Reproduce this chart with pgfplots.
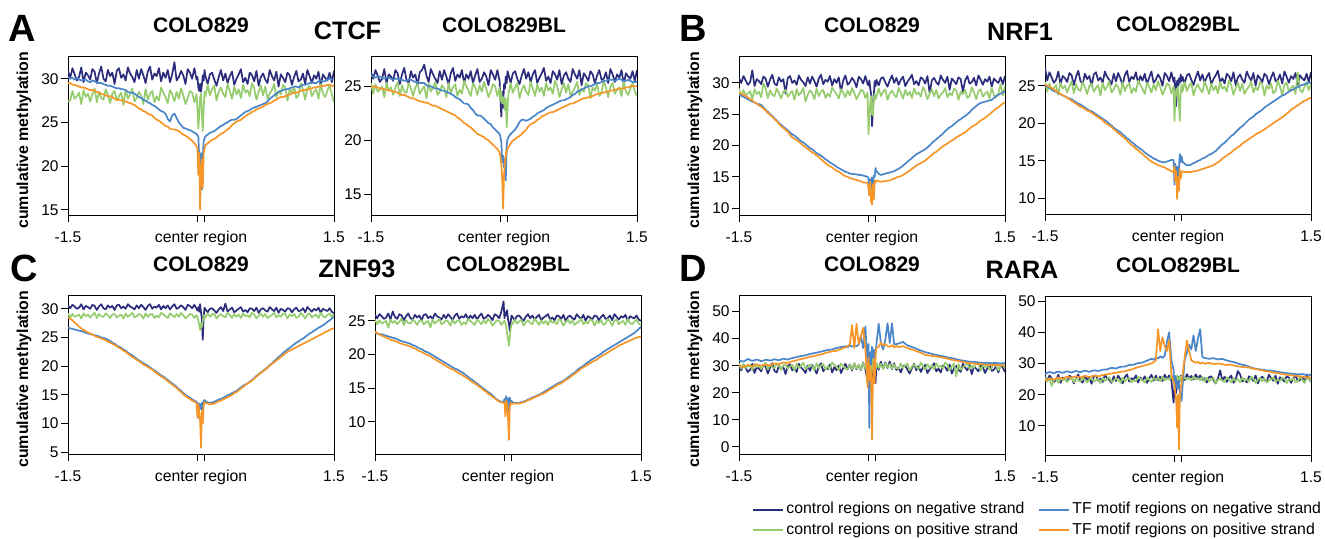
\documentclass[border=0pt]{standalone}
\usepackage{pgfplots}
\pgfplotsset{compat=1.18}
\usepackage{pgfplotstable}
\usepackage{fontspec}
\setmainfont{Liberation Sans}
\setsansfont{Liberation Sans}

\definecolor{cneg}{RGB}{43,45,124}
\definecolor{cpos}{RGB}{150,204,110}
\definecolor{tneg}{RGB}{74,134,200}
\definecolor{tpos}{RGB}{246,150,40}

% CTCF, COLO829
\pgfplotstableread{
x cn cp tn tp
-1.500 30.9 27.4 30.2 29.5
-1.475 30.1 27.5 30.0 29.5
-1.450 31.2 28.6 30.1 29.3
-1.425 30.5 27.7 29.9 29.3
-1.400 29.8 28.0 30.1 29.2
-1.375 30.2 28.4 29.9 29.1
-1.350 31.3 27.1 29.8 29.0
-1.325 29.6 28.7 29.9 29.0
-1.300 30.7 27.9 29.9 28.9
-1.275 30.4 28.3 29.7 28.8
-1.250 29.9 27.4 29.6 28.7
-1.225 31.1 28.2 29.8 28.7
-1.200 30.8 28.9 29.7 28.6
-1.175 29.5 27.3 29.6 28.5
-1.150 30.6 28.5 29.5 28.4
-1.125 31.4 27.8 29.5 28.3
-1.100 30.0 27.6 29.4 28.2
-1.075 29.7 28.8 29.3 28.1
-1.050 31.0 28.1 29.2 28.0
-1.025 30.3 27.2 29.2 28.0
-1.000 30.7 28.3 29.1 27.9
-0.975 29.4 28.6 29.0 27.7
-0.950 30.9 27.5 28.9 27.6
-0.925 31.2 28.0 28.9 27.6
-0.900 30.1 28.4 28.8 27.5
-0.875 30.5 27.0 28.8 27.5
-0.850 29.8 28.7 28.7 27.4
-0.825 31.3 27.7 28.5 27.3
-0.800 30.6 28.2 28.4 27.2
-0.775 30.2 28.9 28.4 27.1
-0.750 29.6 27.4 28.3 27.0
-0.725 31.0 27.8 28.1 26.8
-0.700 30.0 28.5 27.9 26.6
-0.675 31.1 28.1 27.8 26.5
-0.650 30.4 27.1 27.6 26.3
-0.625 29.5 28.8 27.5 26.2
-0.600 30.8 27.6 27.3 26.0
-0.575 31.4 28.3 27.2 25.9
-0.550 29.9 28.6 27.0 25.8
-0.525 30.6 27.3 26.9 25.5
-0.500 30.3 28.0 26.7 25.3
-0.475 31.2 27.5 26.5 25.2
-0.450 29.7 29.0 26.3 25.0
-0.425 30.7 28.4 26.2 24.8
-0.400 30.1 27.9 26.0 24.6
-0.375 31.0 27.2 25.4 24.5
-0.350 29.6 28.7 25.1 24.3
-0.325 30.5 28.2 25.8 24.2
-0.300 31.9 27.4 26.0 24.2
-0.275 29.8 28.5 25.5 24.1
-0.250 30.2 27.7 25.0 24.0
-0.225 30.9 28.9 24.7 23.8
-0.200 30.4 28.1 24.4 23.6
-0.175 29.4 27.1 24.3 23.5
-0.150 31.1 27.8 24.2 23.3
-0.125 30.7 28.6 24.1 23.1
-0.100 30.0 28.4 24.0 22.9
-0.075 31.2 27.3 23.8 22.6
-0.050 29.9 28.2 23.7 22.3
-0.040 30.2 26.5 23.5 22.0
-0.030 29.0 24.3 23.4 19.0
-0.020 28.6 26.0 21.0 21.5
-0.010 29.4 27.8 20.3 15.0
0.000 28.5 28.3 21.5 19.5
0.010 29.3 26.0 17.3 20.8
0.020 30.4 24.0 21.0 17.5
0.030 29.8 26.5 22.8 21.5
0.040 31.0 28.5 23.2 22.0
0.050 30.3 28.0 23.4 22.4
0.075 29.4 29.3 23.6 22.6
0.100 30.5 28.1 23.8 22.8
0.125 30.7 28.8 23.9 23.0
0.150 29.9 29.2 24.0 23.1
0.175 29.2 27.5 24.2 23.3
0.200 30.2 28.5 24.4 23.5
0.225 31.0 29.0 24.6 23.7
0.250 29.8 28.3 24.7 23.8
0.275 30.6 27.9 24.9 24.0
0.300 29.5 29.4 25.0 24.2
0.325 30.3 28.6 25.2 24.4
0.350 30.8 27.7 25.3 24.7
0.375 29.3 29.1 25.3 24.9
0.400 30.0 28.2 25.4 25.1
0.425 30.5 28.8 25.6 25.2
0.450 31.1 27.8 25.8 25.3
0.475 29.6 29.3 26.0 25.5
0.500 30.1 28.4 26.2 25.7
0.525 29.4 28.7 26.3 25.9
0.550 30.7 28.0 26.4 26.0
0.575 30.4 29.5 26.6 26.2
0.600 29.7 28.9 26.7 26.3
0.625 30.9 27.6 26.8 26.5
0.650 29.2 28.5 26.9 26.6
0.675 30.2 29.2 27.0 26.7
0.700 30.6 28.1 27.1 26.8
0.725 29.9 29.1 27.2 27.0
0.750 29.5 27.7 27.4 27.1
0.775 31.0 28.3 27.7 27.2
0.800 30.3 28.7 27.9 27.3
0.825 29.8 29.4 28.1 27.5
0.850 30.8 27.9 28.3 27.6
0.875 29.1 28.6 28.5 27.8
0.900 30.5 28.2 28.6 27.9
0.925 30.1 29.3 28.7 27.9
0.950 29.6 29.0 28.8 28.0
0.975 30.7 27.5 28.8 28.1
1.000 30.4 28.8 28.9 28.2
1.025 29.3 28.4 29.0 28.3
1.050 30.2 29.1 29.1 28.4
1.075 30.9 27.8 29.1 28.4
1.100 29.7 28.1 29.0 28.5
1.125 29.9 29.5 29.2 28.6
1.150 30.6 28.7 29.3 28.7
1.175 29.4 27.6 29.3 28.7
1.200 31.0 28.9 29.4 28.8
1.225 30.3 29.2 29.5 28.8
1.250 29.5 28.0 29.6 28.9
1.275 30.4 28.5 29.5 29.0
1.300 30.0 28.8 29.5 29.0
1.325 30.8 27.7 29.7 29.1
1.350 29.2 29.4 29.8 29.1
1.375 30.5 28.3 29.7 29.2
1.400 30.1 27.9 29.7 29.2
1.425 29.8 28.6 29.9 29.3
1.450 30.7 29.3 30.0 29.3
1.475 29.6 28.2 29.9 29.2
1.500 30.9 27.3 29.9 29.2
}\ctcfa

% CTCF, COLO829BL
\pgfplotstableread{
x cn cp tn tp
-1.500 26.3 25.3 26.0 25.0
-1.475 25.7 24.3 25.9 25.0
-1.450 26.5 25.2 25.8 24.9
-1.425 26.0 24.5 25.9 24.9
-1.400 25.4 24.7 25.9 24.8
-1.375 25.7 25.0 25.8 24.8
-1.350 26.6 24.0 25.7 24.7
-1.325 25.3 25.3 25.8 24.7
-1.300 26.1 24.6 25.8 24.6
-1.275 25.9 24.9 25.7 24.6
-1.250 25.5 24.2 25.6 24.5
-1.225 26.5 24.9 25.7 24.5
-1.200 26.2 25.4 25.7 24.4
-1.175 25.2 24.1 25.6 24.3
-1.150 26.1 25.1 25.6 24.2
-1.125 26.7 24.5 25.5 24.2
-1.100 25.6 24.4 25.5 24.1
-1.075 25.3 25.3 25.6 24.0
-1.050 26.4 24.8 25.6 23.9
-1.025 25.8 24.1 25.5 23.9
-1.000 26.1 24.9 25.4 23.8
-0.975 25.1 25.2 25.4 23.7
-0.950 26.3 24.3 25.3 23.6
-0.925 26.5 24.7 25.3 23.6
-0.900 27.0 25.0 25.3 23.5
-0.875 26.0 23.9 25.1 23.5
-0.850 25.4 25.3 25.0 23.4
-0.825 26.6 24.5 25.0 23.3
-0.800 26.1 24.9 24.9 23.2
-0.775 25.7 25.4 24.8 23.2
-0.750 25.3 24.2 24.8 23.1
-0.725 26.4 24.5 24.7 23.0
-0.700 25.6 25.1 24.6 22.9
-0.675 26.5 24.8 24.6 22.8
-0.650 25.9 24.0 24.5 22.7
-0.625 25.2 25.3 24.4 22.6
-0.600 26.2 24.4 24.3 22.5
-0.575 26.7 24.9 24.2 22.4
-0.550 25.5 25.2 24.0 22.3
-0.525 26.1 24.1 23.9 22.1
-0.500 25.8 24.7 23.8 22.0
-0.475 26.5 24.3 23.6 21.8
-0.450 25.3 25.5 23.4 21.6
-0.425 26.1 25.0 23.4 21.5
-0.400 25.7 24.6 23.3 21.3
-0.375 26.4 24.1 23.0 21.2
-0.350 25.3 25.3 22.8 21.0
-0.325 26.0 24.9 22.5 20.8
-0.300 26.6 24.2 22.3 20.6
-0.275 25.4 25.1 22.3 20.5
-0.250 25.7 24.5 22.2 20.4
-0.225 26.3 25.4 22.0 20.3
-0.200 25.9 24.8 21.8 20.1
-0.175 25.1 24.0 21.6 20.0
-0.150 26.5 24.5 21.5 19.8
-0.125 26.1 25.2 21.2 19.6
-0.100 25.6 25.0 21.0 19.4
-0.075 26.5 24.1 20.8 19.2
-0.050 25.5 24.9 20.6 18.9
-0.040 23.8 23.6 20.3 18.5
-0.030 22.2 24.5 19.8 17.8
-0.020 24.5 23.4 18.0 16.3
-0.010 23.0 24.0 18.6 13.7
0.000 25.2 23.6 17.5 16.8
0.010 24.8 22.8 18.3 17.9
0.020 25.9 23.9 16.3 18.6
0.030 25.3 21.2 19.6 19.0
0.040 26.4 23.0 20.1 19.2
0.050 26.1 24.3 20.3 19.4
0.075 25.3 25.3 20.6 19.7
0.100 26.2 24.4 20.8 20.0
0.125 26.4 24.9 21.0 20.1
0.150 25.7 25.3 21.3 20.3
0.175 25.2 23.9 21.7 20.4
0.200 26.0 24.7 21.9 20.6
0.225 26.6 25.1 21.9 20.8
0.250 25.7 24.5 21.8 21.0
0.275 26.3 24.2 21.9 21.3
0.300 25.4 25.4 22.0 21.5
0.325 26.1 24.8 22.2 21.6
0.350 26.5 24.1 22.3 21.7
0.375 25.3 25.2 22.5 21.9
0.400 25.8 24.5 22.6 22.0
0.425 26.2 24.9 22.7 22.2
0.450 26.7 24.1 22.8 22.3
0.475 25.5 25.3 23.0 22.4
0.500 25.9 24.6 23.1 22.5
0.525 25.3 24.9 23.2 22.6
0.550 26.4 24.3 23.3 22.6
0.575 26.1 25.5 23.4 22.7
0.600 25.6 25.0 23.5 22.8
0.625 26.5 24.0 23.6 22.9
0.650 25.2 24.7 23.7 23.0
0.675 26.0 25.3 23.7 23.1
0.700 26.3 24.4 23.8 23.2
0.725 25.7 25.2 23.9 23.3
0.750 25.4 24.1 24.0 23.4
0.775 26.6 24.5 24.2 23.4
0.800 26.1 24.9 24.3 23.5
0.825 25.7 25.4 24.5 23.6
0.850 26.5 24.2 24.6 23.7
0.875 25.1 24.8 24.7 23.8
0.900 26.2 24.5 24.8 23.9
0.925 25.9 25.3 24.9 23.9
0.950 25.5 25.1 25.0 24.0
0.975 26.4 23.9 25.0 24.0
1.000 26.1 24.9 25.1 24.1
1.025 25.3 24.6 25.2 24.2
1.050 26.0 25.2 25.3 24.3
1.075 26.5 24.1 25.3 24.3
1.100 25.6 24.4 25.4 24.4
1.125 25.7 25.5 25.5 24.4
1.150 26.3 24.9 25.5 24.5
1.175 25.3 24.0 25.6 24.5
1.200 26.6 25.0 25.6 24.6
1.225 26.1 25.3 25.6 24.6
1.250 25.4 24.3 25.5 24.7
1.275 26.1 24.7 25.6 24.7
1.300 25.8 24.9 25.7 24.8
1.325 26.5 24.1 25.6 24.8
1.350 25.2 25.4 25.5 24.8
1.375 26.2 24.5 25.5 24.9
1.400 25.9 24.2 25.6 24.9
1.425 25.7 24.8 25.5 25.0
1.450 26.4 25.3 25.4 25.0
1.475 25.5 24.5 25.4 25.0
1.500 26.5 24.1 25.4 25.0
}\ctcfb

% NRF1, COLO829
\pgfplotstableread{
x cn cp tn tp
-1.500 30.8 29.1 28.1 28.4
-1.475 30.0 27.8 28.0 28.3
-1.450 31.1 28.9 27.8 28.1
-1.425 30.4 28.0 27.6 27.9
-1.400 29.7 28.3 27.4 27.7
-1.375 30.1 28.7 27.2 27.4
-1.350 32.0 27.4 27.0 27.2
-1.325 29.5 29.0 26.9 26.9
-1.300 30.6 28.2 26.7 26.7
-1.275 30.3 28.6 26.6 26.4
-1.250 29.8 27.7 26.5 26.2
-1.225 31.0 29.9 26.1 25.9
-1.200 30.7 29.2 25.7 25.6
-1.175 29.4 27.6 25.4 25.2
-1.150 30.5 28.8 25.0 24.9
-1.125 31.3 28.1 24.7 24.6
-1.100 29.9 27.9 24.3 24.2
-1.075 29.6 29.1 24.0 23.9
-1.050 30.9 28.4 23.6 23.5
-1.025 30.2 27.5 23.3 23.1
-1.000 30.6 28.6 23.0 22.8
-0.975 28.3 28.9 22.7 22.5
-0.950 30.8 27.8 22.4 22.2
-0.925 31.1 28.3 22.1 21.7
-0.900 30.0 28.7 21.8 21.3
-0.875 30.4 27.3 21.6 21.1
-0.850 29.7 29.0 21.3 20.9
-0.825 31.2 28.0 21.0 20.6
-0.800 30.5 28.5 20.7 20.3
-0.775 30.1 29.2 20.5 20.0
-0.750 29.5 27.0 20.2 19.7
-0.725 30.9 28.1 19.9 19.5
-0.700 29.9 28.8 19.6 19.2
-0.675 31.0 28.4 19.4 18.9
-0.650 30.3 27.4 19.1 18.7
-0.625 29.4 29.1 18.8 18.4
-0.600 30.7 27.9 18.6 18.2
-0.575 31.3 28.6 18.4 17.8
-0.550 29.8 28.9 18.1 17.5
-0.525 30.5 27.6 17.8 17.2
-0.500 30.2 28.3 17.6 16.9
-0.475 31.1 27.8 17.3 16.7
-0.450 29.6 29.3 17.1 16.5
-0.425 30.6 28.7 16.9 16.2
-0.400 30.0 28.2 16.6 16.0
-0.375 30.9 27.5 16.4 15.8
-0.350 28.6 29.0 16.2 15.6
-0.325 30.4 28.5 16.0 15.3
-0.300 31.2 27.7 15.8 15.1
-0.275 29.7 28.8 15.7 15.0
-0.250 30.1 28.0 15.5 14.8
-0.225 30.8 29.2 15.5 14.7
-0.200 30.3 28.4 15.4 14.6
-0.175 29.3 27.4 15.4 14.5
-0.150 31.0 28.1 15.3 14.4
-0.125 30.6 28.9 15.3 14.3
-0.100 29.9 28.7 15.2 14.1
-0.075 31.1 27.6 15.1 14.1
-0.050 29.8 28.5 15.0 14.0
-0.040 29.6 21.8 14.8 13.2
-0.030 30.4 24.5 12.2 12.0
-0.020 29.1 26.8 14.6 14.2
-0.010 28.2 27.9 13.0 11.0
0.000 23.1 25.0 14.9 10.6
0.010 25.5 24.8 12.8 13.8
0.020 27.9 27.6 15.2 11.4
0.030 30.3 28.3 15.0 14.4
0.040 29.5 27.4 16.4 14.1
0.050 30.5 27.8 15.9 14.4
0.075 29.6 29.1 15.5 14.3
0.100 30.7 27.9 15.3 14.2
0.125 30.9 28.6 15.4 14.3
0.150 30.1 29.0 15.5 14.3
0.175 29.4 27.3 15.6 14.4
0.200 30.4 28.3 15.7 14.4
0.225 31.2 28.8 15.8 14.6
0.250 30.0 28.1 15.9 14.7
0.275 30.8 27.7 16.1 14.9
0.300 29.7 29.2 16.3 15.0
0.325 30.5 28.4 16.5 15.1
0.350 31.0 27.5 16.8 15.3
0.375 29.5 28.9 17.1 15.5
0.400 30.2 28.0 17.4 15.8
0.425 30.7 28.6 17.7 16.0
0.450 31.3 27.6 18.0 16.3
0.475 29.8 29.1 18.3 16.5
0.500 30.3 28.2 18.6 16.8
0.525 29.6 28.5 18.8 17.0
0.550 30.9 27.8 19.0 17.2
0.575 30.6 29.3 19.2 17.4
0.600 29.9 28.7 19.4 17.6
0.625 31.1 27.4 19.7 17.9
0.650 28.4 28.3 20.0 18.2
0.675 30.4 29.0 20.4 18.5
0.700 30.8 27.9 20.7 18.8
0.725 30.1 28.9 21.0 19.0
0.750 29.7 27.5 21.3 19.3
0.775 31.2 28.1 21.6 19.6
0.800 30.5 28.5 21.9 19.9
0.825 30.0 29.2 22.3 20.1
0.850 31.0 27.7 22.6 20.3
0.875 28.9 28.4 22.9 20.6
0.900 30.7 28.0 23.1 20.8
0.925 30.3 29.1 23.4 21.0
0.950 29.8 28.8 23.7 21.3
0.975 30.9 27.3 24.0 21.5
1.000 30.6 28.6 24.2 21.7
1.025 28.6 28.2 24.5 21.9
1.050 30.4 28.9 24.7 22.1
1.075 31.1 27.6 25.0 22.4
1.100 29.9 27.9 25.3 22.7
1.125 30.1 29.3 25.7 23.0
1.150 30.8 28.5 26.0 23.2
1.175 29.6 27.4 26.3 23.4
1.200 31.2 28.7 26.6 23.7
1.225 30.5 29.0 26.8 24.0
1.250 29.7 27.8 26.9 24.2
1.275 30.6 28.3 27.0 24.4
1.300 30.2 28.6 27.1 24.7
1.325 31.0 27.5 27.2 25.0
1.350 29.4 29.2 27.3 25.3
1.375 30.7 28.1 27.6 25.6
1.400 30.3 27.7 27.9 25.9
1.425 30.0 28.4 28.1 26.1
1.450 30.9 29.8 28.3 26.4
1.475 29.8 28.0 28.5 26.7
1.500 31.1 29.5 28.6 26.9
}\nrfa

% NRF1, COLO829BL
\pgfplotstableread{
x cn cp tn tp
-1.500 27.4 25.5 25.0 25.2
-1.475 25.7 24.2 24.9 25.0
-1.450 26.8 25.3 24.7 24.9
-1.425 26.1 24.4 24.5 24.7
-1.400 25.4 24.7 24.3 24.5
-1.375 25.8 25.1 24.2 24.3
-1.350 26.9 23.8 24.0 24.1
-1.325 25.2 25.4 23.9 23.9
-1.300 26.3 24.6 23.7 23.7
-1.275 26.0 25.0 23.6 23.6
-1.250 25.5 24.1 23.4 23.4
-1.225 26.7 24.9 23.3 23.2
-1.200 26.4 25.6 23.2 23.0
-1.175 25.1 24.0 23.0 22.8
-1.150 26.2 25.2 22.8 22.6
-1.125 27.0 24.5 22.6 22.4
-1.100 25.6 24.3 22.5 22.2
-1.075 25.3 25.5 22.3 22.1
-1.050 26.6 24.8 22.1 21.9
-1.025 25.9 23.9 21.9 21.7
-1.000 26.3 25.0 21.7 21.6
-0.975 25.0 25.3 21.6 21.4
-0.950 26.5 24.2 21.4 21.2
-0.925 26.8 24.7 21.2 21.0
-0.900 25.7 25.1 21.0 20.8
-0.875 26.1 23.7 20.8 20.6
-0.850 25.4 25.4 20.6 20.4
-0.825 26.9 24.4 20.4 20.1
-0.800 26.2 24.9 20.2 19.9
-0.775 25.8 25.6 19.9 19.7
-0.750 25.2 24.1 19.7 19.5
-0.725 26.6 24.5 19.4 19.2
-0.700 25.6 25.2 19.2 19.0
-0.675 26.7 24.8 19.0 18.7
-0.650 26.0 23.8 18.8 18.5
-0.625 25.1 25.5 18.5 18.2
-0.600 26.4 24.3 18.3 18.0
-0.575 27.0 25.0 18.0 17.7
-0.550 25.5 25.3 17.8 17.4
-0.525 26.2 24.0 17.5 17.1
-0.500 25.9 24.7 17.3 16.9
-0.475 26.8 24.2 17.0 16.6
-0.450 25.3 25.7 16.8 16.4
-0.425 26.3 25.1 16.6 16.1
-0.400 25.7 24.6 16.4 15.9
-0.375 26.6 23.9 16.1 15.6
-0.350 25.2 25.4 15.9 15.4
-0.325 26.1 24.9 15.7 15.1
-0.300 26.9 24.1 15.5 14.9
-0.275 25.4 25.2 15.3 14.7
-0.250 25.8 24.4 15.2 14.6
-0.225 26.5 25.6 15.0 14.4
-0.200 26.0 24.8 14.9 14.3
-0.175 25.0 23.8 14.8 14.2
-0.150 26.7 24.5 14.8 14.1
-0.125 26.3 25.3 14.9 13.9
-0.100 25.6 25.1 15.0 13.8
-0.075 26.8 24.0 15.1 13.6
-0.050 25.5 24.9 15.1 13.5
-0.040 26.1 20.3 11.8 14.3
-0.030 24.5 23.0 14.6 12.2
-0.020 22.3 24.6 12.5 13.6
-0.010 25.7 23.8 14.2 9.9
0.000 24.3 24.9 11.3 12.8
0.010 26.0 22.5 13.9 11.0
0.020 25.4 20.3 15.9 13.9
0.030 26.5 24.0 14.8 12.6
0.040 25.6 25.2 15.6 13.4
0.050 26.2 24.2 14.9 13.6
0.075 25.3 25.5 14.6 13.5
0.100 26.4 24.3 14.4 13.5
0.125 26.6 25.0 14.4 13.5
0.150 25.8 25.4 14.5 13.5
0.175 25.1 23.7 14.7 13.6
0.200 26.1 24.7 14.8 13.6
0.225 26.9 25.2 15.0 13.7
0.250 25.7 24.5 15.1 13.8
0.275 26.5 24.1 15.3 13.9
0.300 25.4 25.6 15.4 14.0
0.325 26.2 24.8 15.6 14.1
0.350 26.7 23.9 15.8 14.2
0.375 25.2 25.3 15.9 14.3
0.400 25.9 24.4 16.1 14.4
0.425 26.4 25.0 16.3 14.6
0.450 27.0 24.0 16.6 14.8
0.475 25.5 25.5 16.9 15.0
0.500 26.0 24.6 17.2 15.3
0.525 25.3 24.9 17.4 15.5
0.550 26.6 24.2 17.7 15.7
0.575 26.3 25.7 18.0 15.9
0.600 25.6 25.1 18.3 16.1
0.625 26.8 23.8 18.5 16.4
0.650 25.1 24.7 18.8 16.6
0.675 26.1 25.4 19.1 16.8
0.700 26.5 24.3 19.4 17.0
0.725 25.8 25.3 19.6 17.3
0.750 25.4 23.9 19.9 17.5
0.775 26.9 24.5 20.2 17.7
0.800 26.2 24.9 20.5 17.9
0.825 25.7 25.6 20.7 18.1
0.850 26.7 24.1 20.9 18.3
0.875 25.0 24.8 21.2 18.5
0.900 26.4 24.4 21.4 18.7
0.925 26.0 25.5 21.6 18.8
0.950 25.5 25.2 21.8 19.0
0.975 26.6 23.7 22.1 19.2
1.000 26.3 25.0 22.3 19.4
1.025 25.2 24.6 22.5 19.6
1.050 26.1 25.3 22.7 19.8
1.075 26.8 24.0 22.9 20.0
1.100 25.6 24.3 23.1 20.2
1.125 25.8 25.7 23.3 20.4
1.150 26.5 24.9 23.5 20.6
1.175 25.3 23.8 23.7 20.8
1.200 26.9 25.1 23.8 21.0
1.225 26.2 25.4 24.0 21.3
1.250 25.4 24.2 24.2 21.5
1.275 26.3 24.7 24.4 21.8
1.300 25.9 25.0 24.5 22.0
1.325 26.7 23.9 24.7 22.2
1.350 25.1 26.8 24.8 22.4
1.375 26.4 24.5 25.0 22.6
1.400 26.0 24.1 25.1 22.8
1.425 25.7 24.8 25.2 23.0
1.450 26.6 25.5 25.3 23.1
1.475 25.5 24.4 25.4 23.3
1.500 26.8 25.2 25.4 23.4
}\nrfb

% ZNF93, COLO829
\pgfplotstableread{
x cn cp tn tp
-1.500 30.6 29.2 26.7 28.5
-1.475 30.1 28.5 26.6 28.3
-1.450 30.7 29.1 26.5 28.0
-1.425 30.4 28.6 26.4 27.6
-1.400 30.0 28.8 26.3 27.3
-1.375 30.2 29.0 26.2 26.9
-1.350 30.8 28.3 26.1 26.6
-1.325 29.9 29.2 26.0 26.3
-1.300 30.5 28.7 25.8 26.1
-1.275 30.3 29.0 25.7 25.9
-1.250 30.0 28.5 25.6 25.7
-1.225 30.7 28.9 25.5 25.5
-1.200 30.5 29.3 25.4 25.3
-1.175 29.8 28.4 25.3 25.1
-1.150 30.4 29.1 25.2 25.0
-1.125 30.8 28.7 25.0 24.8
-1.100 30.1 28.6 24.9 24.7
-1.075 29.9 29.2 24.8 24.5
-1.050 30.6 28.9 24.6 24.3
-1.025 30.2 28.4 24.4 24.1
-1.000 30.5 29.0 24.1 23.9
-0.975 29.8 29.1 23.9 23.7
-0.950 30.6 28.5 23.6 23.5
-0.925 30.7 28.8 23.4 23.2
-0.900 30.1 29.0 23.2 23.0
-0.875 30.4 28.3 22.9 22.7
-0.850 30.0 29.2 22.7 22.5
-0.825 30.8 28.6 22.4 22.2
-0.800 30.4 28.9 22.1 21.9
-0.775 30.2 29.3 21.9 21.6
-0.750 29.9 28.5 21.6 21.4
-0.725 30.6 28.7 21.3 21.1
-0.700 30.1 29.1 21.0 20.9
-0.675 30.7 28.9 20.8 20.6
-0.650 30.3 28.3 20.5 20.3
-0.625 29.8 29.2 20.3 20.1
-0.600 30.5 28.6 20.1 19.9
-0.575 30.8 29.0 19.8 19.6
-0.550 30.0 29.1 19.5 19.4
-0.525 30.4 28.4 19.3 19.1
-0.500 30.2 28.8 19.0 18.8
-0.475 30.7 28.5 18.7 18.5
-0.450 29.9 29.3 18.4 18.2
-0.425 30.5 29.0 18.2 18.0
-0.400 30.1 28.7 17.9 17.7
-0.375 30.6 28.4 17.6 17.4
-0.350 29.9 29.2 17.3 17.1
-0.325 30.4 28.9 17.0 16.8
-0.300 30.8 28.5 16.7 16.5
-0.275 30.0 29.1 16.4 16.2
-0.250 30.2 28.6 16.0 15.8
-0.225 30.6 29.3 15.7 15.5
-0.200 30.3 28.9 15.3 15.1
-0.175 29.8 28.3 15.0 14.8
-0.150 30.7 28.7 14.7 14.5
-0.125 30.5 29.1 14.5 14.3
-0.100 30.1 29.0 14.2 14.0
-0.075 30.7 28.4 14.0 13.8
-0.050 30.0 28.9 13.8 13.6
-0.040 29.7 28.6 13.6 11.0
-0.030 30.3 27.9 11.0 13.4
-0.020 29.5 27.2 13.5 12.0
-0.010 30.8 26.3 13.3 10.5
0.000 29.4 27.5 12.5 5.8
0.010 28.3 26.8 13.6 12.3
0.020 24.6 27.8 12.2 10.0
0.030 28.6 28.9 13.9 13.2
0.040 30.2 28.3 14.1 13.7
0.050 29.9 28.5 13.9 13.6
0.075 29.4 29.2 13.7 13.5
0.100 30.0 28.6 13.6 13.4
0.125 30.1 29.0 13.7 13.4
0.150 29.7 29.2 13.8 13.5
0.175 29.3 28.3 14.0 13.7
0.200 29.9 28.8 14.2 13.9
0.225 30.3 29.1 14.3 14.0
0.250 29.6 28.7 14.5 14.2
0.275 30.9 28.5 14.7 14.4
0.300 29.5 29.3 14.9 14.6
0.325 29.9 28.9 15.1 14.8
0.350 30.2 28.4 15.3 15.0
0.375 29.4 29.1 15.5 15.3
0.400 29.7 28.6 15.7 15.5
0.425 30.0 29.0 16.0 15.8
0.450 30.3 28.4 16.3 16.1
0.475 29.5 29.2 16.6 16.4
0.500 29.8 28.7 16.8 16.7
0.525 29.4 28.9 17.0 17.0
0.550 30.1 28.5 17.3 17.2
0.575 30.0 29.3 17.6 17.5
0.600 29.6 29.0 17.9 17.8
0.625 30.2 28.3 18.3 18.2
0.650 29.3 28.8 18.6 18.5
0.675 29.9 29.2 18.9 18.8
0.700 30.1 28.6 19.2 19.1
0.725 29.7 29.1 19.5 19.4
0.750 29.5 28.4 19.8 19.7
0.775 30.3 28.7 20.2 20.1
0.800 29.9 28.9 20.5 20.4
0.825 29.6 29.3 20.9 20.7
0.850 30.2 28.5 21.2 21.0
0.875 29.3 28.9 21.6 21.3
0.900 30.0 28.6 21.9 21.6
0.925 29.8 29.2 22.3 21.9
0.950 29.5 29.1 22.6 22.2
0.975 30.1 28.3 22.9 22.5
1.000 30.0 29.0 23.2 22.7
1.025 29.4 28.7 23.5 22.9
1.050 29.9 29.1 23.8 23.1
1.075 30.2 28.4 24.1 23.3
1.100 29.6 28.6 24.3 23.5
1.125 29.7 29.3 24.6 23.7
1.150 30.1 28.9 24.8 23.9
1.175 29.4 28.3 25.1 24.1
1.200 30.3 29.0 25.4 24.3
1.225 29.9 29.2 25.7 24.5
1.250 29.5 28.5 25.9 24.7
1.275 30.0 28.8 26.2 24.9
1.300 29.7 29.0 26.4 25.1
1.325 30.2 28.4 26.7 25.3
1.350 29.3 29.3 26.9 25.5
1.375 30.0 28.7 27.1 25.7
1.400 29.8 28.5 27.4 25.9
1.425 29.6 28.9 27.7 26.1
1.450 30.1 29.2 28.0 26.3
1.475 29.5 28.6 28.3 26.5
1.500 29.2 29.1 28.6 26.6
}\znfa

% ZNF93, COLO829BL
\pgfplotstableread{
x cn cp tn tp
-1.500 25.9 25.2 23.2 23.4
-1.475 25.4 24.5 23.1 23.2
-1.450 26.0 25.1 23.0 23.0
-1.425 25.7 24.6 23.0 22.8
-1.400 25.3 24.8 22.9 22.7
-1.375 25.5 25.0 22.8 22.5
-1.350 26.1 24.0 22.7 22.4
-1.325 25.2 25.2 22.6 22.2
-1.300 26.4 24.7 22.5 22.1
-1.275 25.6 25.0 22.4 22.0
-1.250 25.3 24.5 22.3 21.9
-1.225 26.0 24.9 22.1 21.7
-1.200 25.8 25.3 22.0 21.6
-1.175 25.1 24.4 21.9 21.5
-1.150 25.7 25.1 21.8 21.4
-1.125 26.1 24.7 21.7 21.3
-1.100 25.4 24.6 21.6 21.2
-1.075 25.2 25.2 21.4 21.0
-1.050 25.9 24.9 21.3 20.9
-1.025 25.5 24.4 21.1 20.7
-1.000 25.8 25.0 20.9 20.5
-0.975 25.1 25.1 20.8 20.4
-0.950 25.9 24.5 20.6 20.2
-0.925 26.0 24.8 20.4 20.0
-0.900 25.4 25.0 20.3 19.9
-0.875 25.7 24.0 20.1 19.7
-0.850 25.3 25.2 19.9 19.5
-0.825 26.1 24.6 19.7 19.3
-0.800 25.7 24.9 19.5 19.1
-0.775 25.5 25.3 19.3 18.9
-0.750 25.2 24.5 19.1 18.7
-0.725 25.9 24.7 18.9 18.5
-0.700 25.4 25.1 18.7 18.3
-0.675 26.0 24.9 18.5 18.1
-0.650 25.6 24.3 18.3 17.9
-0.625 25.1 25.2 18.1 17.8
-0.600 25.8 24.6 17.9 17.6
-0.575 26.1 25.0 17.8 17.4
-0.550 25.3 25.1 17.6 17.2
-0.525 25.7 24.4 17.4 17.0
-0.500 25.5 24.8 17.2 16.8
-0.475 26.0 24.5 16.9 16.6
-0.450 25.2 25.3 16.7 16.4
-0.425 25.8 25.0 16.4 16.1
-0.400 25.4 24.7 16.2 15.9
-0.375 25.9 24.4 15.9 15.7
-0.350 25.2 25.2 15.7 15.5
-0.325 25.7 24.9 15.4 15.2
-0.300 26.1 24.5 15.2 15.0
-0.275 25.3 25.1 14.9 14.7
-0.250 25.5 24.6 14.7 14.5
-0.225 25.9 25.3 14.4 14.2
-0.200 25.6 24.9 14.2 14.0
-0.175 25.1 24.3 13.9 13.7
-0.150 26.0 24.7 13.6 13.5
-0.125 25.8 25.1 13.3 13.2
-0.100 25.4 25.0 13.1 13.0
-0.075 26.4 24.4 13.0 12.9
-0.050 27.9 24.9 12.9 12.8
-0.040 25.4 25.0 13.4 12.9
-0.030 26.3 24.7 12.8 10.8
-0.020 25.8 24.1 13.8 13.2
-0.010 26.6 23.0 12.6 12.4
0.000 25.2 22.4 13.5 10.6
0.010 24.6 21.3 11.2 7.3
0.020 23.5 22.5 13.6 12.2
0.030 24.9 23.8 12.9 12.8
0.040 25.8 24.5 13.1 12.6
0.050 25.6 24.5 12.9 12.7
0.075 25.1 25.2 12.8 12.7
0.100 25.7 24.6 12.8 12.7
0.125 25.8 24.9 12.8 12.7
0.150 25.4 25.2 12.9 12.8
0.175 25.0 24.3 13.0 12.9
0.200 25.6 24.8 13.1 13.0
0.225 26.0 25.1 13.3 13.2
0.250 25.4 24.7 13.4 13.3
0.275 25.8 24.5 13.6 13.5
0.300 25.2 25.3 13.7 13.6
0.325 25.6 24.9 13.9 13.8
0.350 25.9 24.4 14.0 13.9
0.375 25.1 25.1 14.2 14.1
0.400 25.5 24.6 14.4 14.2
0.425 25.7 25.0 14.6 14.4
0.450 26.0 24.4 14.8 14.6
0.475 25.2 25.2 15.0 14.8
0.500 25.5 24.7 15.2 15.0
0.525 25.1 24.9 15.4 15.2
0.550 25.8 24.5 15.6 15.4
0.575 25.7 25.3 15.8 15.6
0.600 25.3 25.0 15.9 15.7
0.625 25.9 24.3 16.1 16.0
0.650 25.0 24.8 16.3 16.2
0.675 25.6 25.2 16.6 16.4
0.700 25.8 24.6 16.8 16.6
0.725 25.4 25.1 17.1 16.9
0.750 25.2 24.4 17.3 17.1
0.775 26.0 24.7 17.6 17.4
0.800 25.6 24.9 17.9 17.6
0.825 25.3 25.3 18.1 17.9
0.850 25.9 24.5 18.3 18.1
0.875 25.0 24.9 18.6 18.3
0.900 25.7 24.6 18.8 18.5
0.925 25.5 25.2 19.1 18.7
0.950 25.2 25.1 19.3 18.9
0.975 25.8 24.3 19.5 19.1
1.000 25.7 25.0 19.7 19.2
1.025 25.1 24.7 19.9 19.5
1.050 25.6 25.1 20.1 19.7
1.075 25.9 24.4 20.4 19.9
1.100 25.3 24.6 20.6 20.1
1.125 25.4 25.3 20.8 20.3
1.150 25.8 24.9 21.0 20.5
1.175 25.1 24.3 21.2 20.7
1.200 26.0 25.0 21.4 20.9
1.225 25.6 25.2 21.6 21.1
1.250 25.2 24.5 21.8 21.3
1.275 25.7 24.8 22.0 21.5
1.300 25.5 25.0 22.2 21.6
1.325 25.9 24.4 22.4 21.8
1.350 25.0 25.3 22.6 21.9
1.375 25.7 24.7 22.8 22.1
1.400 25.5 24.5 23.0 22.2
1.425 25.4 24.9 23.2 22.4
1.450 25.8 25.2 23.5 22.5
1.475 25.2 24.6 23.8 22.6
1.500 25.0 24.4 24.1 22.6
}\znfb

% RARA, COLO829
\pgfplotstableread{
x cn cp tn tp
-1.500 29.9 30.9 32.0 30.0
-1.475 28.3 28.9 31.7 29.8
-1.450 30.5 30.6 31.5 29.5
-1.425 29.1 29.2 32.0 29.9
-1.400 27.7 29.7 32.5 30.3
-1.375 28.5 30.3 32.1 30.0
-1.350 30.7 28.3 31.8 29.8
-1.325 27.3 30.8 32.0 30.1
-1.300 29.5 29.5 32.3 30.5
-1.275 28.9 30.2 32.0 30.2
-1.250 27.9 28.8 31.7 30.0
-1.225 30.3 30.0 31.9 30.2
-1.200 29.7 31.1 32.2 30.4
-1.175 27.1 28.6 32.1 30.2
-1.150 29.3 30.5 31.9 30.1
-1.125 30.9 29.4 32.1 30.5
-1.100 28.1 29.1 32.4 30.8
-1.075 27.5 30.9 32.2 30.7
-1.050 30.1 29.9 32.0 30.6
-1.025 28.7 28.5 32.3 30.9
-1.000 29.5 30.2 32.6 31.2
-0.975 26.9 30.6 32.4 31.1
-0.950 29.9 28.9 32.3 31.0
-0.925 30.5 29.7 32.6 31.3
-0.900 28.3 30.3 32.8 31.6
-0.875 29.1 28.2 33.0 31.8
-0.850 27.7 30.8 33.2 32.0
-0.825 30.7 29.2 33.4 32.3
-0.800 29.3 30.0 33.5 32.5
-0.775 28.5 31.1 33.7 32.6
-0.750 27.3 28.8 33.9 32.8
-0.725 30.1 29.4 34.1 33.1
-0.700 28.1 30.5 34.3 33.3
-0.675 30.3 29.9 34.5 33.4
-0.650 28.9 28.3 34.7 33.6
-0.625 27.1 30.9 34.8 33.8
-0.600 29.7 29.1 35.0 34.0
-0.575 30.9 30.2 35.2 34.2
-0.550 27.9 30.6 35.4 34.4
-0.525 29.3 28.6 35.6 34.7
-0.500 28.7 29.7 35.8 34.9
-0.475 30.5 28.9 35.9 35.1
-0.450 27.5 31.2 36.0 35.3
-0.425 29.5 30.3 36.3 35.4
-0.400 28.3 29.5 36.5 35.5
-0.375 30.1 28.5 36.7 35.9
-0.350 27.3 30.8 36.9 36.2
-0.325 29.1 30.0 37.0 36.5
-0.300 30.7 28.8 37.2 36.8
-0.275 28.6 28.8 36.8 37.2
-0.250 30.5 30.3 37.5 37.9
-0.225 28.2 28.6 37.0 45.0
-0.200 30.9 30.8 37.6 36.5
-0.175 28.7 28.9 37.2 45.5
-0.150 30.3 30.4 37.8 38.0
-0.125 28.4 28.5 41.0 41.0
-0.100 31.2 31.0 36.5 44.0
-0.075 28.8 29.2 44.5 36.0
-0.050 24.0 28.0 30.0 22.0
-0.040 30.2 30.5 38.0 33.0
-0.030 22.5 27.5 7.0 24.5
-0.020 29.0 31.5 35.0 30.0
-0.010 25.5 27.0 30.5 26.0
0.000 31.5 32.5 37.0 2.8
0.010 26.0 28.0 33.0 24.0
0.020 24.5 29.0 36.0 32.5
0.030 29.5 30.8 30.0 23.5
0.040 23.5 28.3 34.5 34.0
0.050 30.8 31.0 38.0 36.5
0.075 28.5 29.1 45.5 37.0
0.100 31.5 30.7 38.5 38.5
0.125 28.9 28.8 36.0 37.5
0.150 31.2 30.9 39.5 38.0
0.175 29.1 29.3 45.7 37.2
0.200 31.6 30.6 38.4 37.0
0.225 28.7 28.9 45.7 37.6
0.250 30.9 30.5 37.8 36.8
0.275 28.4 29.0 38.0 37.3
0.300 29.3 28.9 38.2 36.9
0.325 27.5 30.9 38.5 37.0
0.350 29.7 29.1 38.8 37.2
0.375 30.1 30.2 38.1 36.8
0.400 28.5 30.8 37.5 36.5
0.425 27.1 28.2 37.2 36.2
0.450 29.1 29.7 36.9 36.0
0.475 30.7 30.5 36.6 35.7
0.500 28.3 29.4 36.3 35.4
0.525 29.9 28.8 35.9 35.1
0.550 27.7 31.1 35.6 34.8
0.575 29.3 29.9 35.3 34.4
0.600 30.3 28.5 35.0 34.0
0.625 27.3 30.6 34.8 33.9
0.650 28.7 29.2 34.6 33.8
0.675 29.7 30.2 34.4 33.6
0.700 30.9 28.6 34.1 33.5
0.725 27.9 30.9 34.0 33.4
0.750 28.9 29.5 33.8 33.3
0.775 27.5 30.0 33.6 33.1
0.800 30.1 28.9 33.5 33.0
0.825 29.5 31.2 33.3 32.8
0.850 28.1 30.3 33.1 32.6
0.875 30.5 28.3 32.9 32.4
0.900 27.1 29.7 32.8 32.2
0.925 29.1 30.8 32.6 32.0
0.950 29.9 26.0 32.4 31.9
0.975 28.5 30.6 32.2 31.7
1.000 27.7 28.5 32.0 31.5
1.025 30.7 29.4 31.9 31.4
1.050 29.3 30.0 31.8 31.2
1.075 28.3 31.1 31.6 31.1
1.100 30.3 28.8 31.5 31.0
1.125 26.9 29.9 31.5 30.9
1.150 29.7 29.2 31.4 30.8
1.175 28.9 30.9 31.3 30.7
1.200 27.9 30.5 31.2 30.6
1.225 30.1 28.2 31.1 30.6
1.250 29.5 30.2 31.0 30.5
1.275 27.3 29.5 31.0 30.4
1.300 29.1 30.6 31.1 30.4
1.325 30.5 28.6 31.0 30.3
1.350 28.1 29.1 30.9 30.2
1.375 28.5 31.2 31.0 30.3
1.400 29.9 30.0 31.0 30.3
1.425 27.5 28.3 30.9 30.2
1.450 30.7 30.3 30.8 30.1
1.475 29.3 30.8 30.9 30.1
1.500 27.7 28.9 31.0 30.0
}\raraa

% RARA, COLO829BL
\pgfplotstableread{
x cn cp tn tp
-1.500 25.8 25.5 26.6 24.5
-1.475 24.5 24.2 27.0 24.9
-1.450 26.2 25.3 27.3 25.2
-1.425 25.2 22.8 27.1 25.0
-1.400 24.1 24.7 26.9 24.8
-1.375 24.7 25.1 27.2 25.2
-1.350 26.4 23.8 27.4 25.5
-1.325 23.8 25.4 27.2 25.3
-1.300 25.5 24.6 27.0 25.1
-1.275 25.0 25.0 27.3 25.5
-1.250 24.2 24.1 27.5 25.8
-1.225 26.1 24.9 27.3 25.6
-1.200 25.6 25.6 27.1 25.4
-1.175 23.6 24.0 27.4 25.7
-1.150 25.3 25.2 27.6 25.9
-1.125 26.5 24.5 27.4 25.7
-1.100 24.4 24.3 27.2 25.5
-1.075 23.9 25.5 27.5 25.8
-1.050 25.9 24.8 27.7 26.0
-1.025 24.8 23.9 27.5 25.9
-1.000 25.5 25.0 27.3 25.7
-0.975 23.5 25.3 27.6 25.9
-0.950 25.8 24.2 27.8 26.1
-0.925 26.2 24.7 27.7 26.0
-0.900 24.5 25.1 27.6 25.9
-0.875 25.2 23.7 27.8 26.1
-0.850 24.1 25.4 28.0 26.3
-0.825 26.4 24.4 28.1 26.4
-0.800 25.3 24.9 28.1 26.5
-0.775 24.7 25.6 28.4 26.7
-0.750 23.8 24.1 28.6 26.8
-0.725 25.9 24.5 28.5 26.9
-0.700 24.4 25.2 28.4 27.0
-0.675 26.1 24.8 28.7 27.2
-0.650 25.0 23.8 28.9 27.3
-0.625 23.6 25.5 29.0 27.4
-0.600 25.6 24.3 29.0 27.5
-0.575 26.5 25.0 29.3 27.7
-0.550 24.2 25.3 29.5 27.9
-0.525 25.3 24.0 29.6 28.1
-0.500 24.8 24.7 29.6 28.3
-0.475 26.2 24.2 29.9 28.6
-0.450 23.9 25.7 30.1 28.8
-0.425 25.5 25.1 30.2 29.0
-0.400 24.5 24.6 30.3 29.2
-0.375 25.9 23.9 30.6 29.4
-0.350 23.8 25.4 30.9 29.6
-0.325 25.2 24.9 31.2 29.8
-0.300 26.4 24.1 31.5 30.0
-0.275 24.5 25.4 31.2 30.4
-0.250 26.1 24.7 32.0 31.0
-0.225 24.7 25.5 31.6 41.0
-0.200 25.8 24.3 32.3 34.0
-0.175 24.4 25.7 31.8 38.4
-0.150 26.4 24.6 32.5 35.5
-0.125 25.0 25.3 37.0 34.0
-0.100 26.2 24.8 40.0 37.5
-0.075 24.6 26.0 31.0 26.6
-0.050 17.5 24.2 28.0 24.0
-0.040 22.0 23.0 23.0 23.4
-0.030 24.8 25.5 26.0 20.5
-0.020 20.5 24.0 24.5 18.0
-0.010 25.3 26.2 22.0 9.5
0.000 23.0 25.0 22.0 20.0
0.010 25.8 24.3 24.5 2.5
0.020 24.2 25.8 21.0 18.5
0.030 26.0 24.6 19.5 22.0
0.040 25.1 25.9 18.0 23.4
0.050 26.3 24.4 22.5 26.0
0.075 24.7 25.6 31.0 32.0
0.100 26.6 24.8 33.5 37.4
0.125 25.2 25.4 36.0 34.0
0.150 26.0 24.5 34.5 31.0
0.175 24.9 25.8 39.0 30.6
0.200 26.5 24.9 34.0 30.2
0.225 25.1 25.3 38.0 30.5
0.250 26.2 24.6 41.0 30.0
0.275 24.8 25.7 32.0 30.3
0.300 25.3 24.2 31.8 29.9
0.325 23.9 25.5 31.6 30.1
0.350 25.6 24.3 31.5 30.2
0.375 25.9 25.0 31.6 30.0
0.400 24.7 25.4 31.7 29.8
0.425 23.6 23.7 31.5 29.9
0.450 25.2 24.7 31.3 30.0
0.475 27.8 25.2 31.4 29.9
0.500 24.5 24.5 31.5 29.8
0.525 25.8 24.1 31.2 29.6
0.550 24.1 25.6 31.0 29.5
0.575 25.3 24.8 30.8 29.6
0.600 26.1 23.9 30.6 29.6
0.625 23.8 25.3 30.5 29.4
0.650 24.8 24.4 30.3 29.2
0.675 27.6 25.0 30.0 29.1
0.700 26.5 24.0 29.8 29.0
0.725 24.2 25.5 29.6 28.9
0.750 25.0 24.6 29.5 28.8
0.775 23.9 24.9 29.2 28.8
0.800 25.9 24.2 29.0 28.7
0.825 25.5 25.7 28.7 28.5
0.850 24.4 25.1 28.5 28.3
0.875 26.2 23.8 28.3 28.2
0.900 23.6 24.7 28.2 28.1
0.925 25.2 25.4 28.1 27.9
0.950 25.8 24.3 28.0 27.8
0.975 24.7 25.3 27.9 27.6
1.000 24.1 23.9 27.8 27.5
1.025 26.4 24.5 27.8 27.4
1.050 25.3 24.9 27.7 27.3
1.075 24.5 25.6 27.6 27.1
1.100 26.1 24.1 27.5 27.0
1.125 23.5 24.8 27.3 26.9
1.150 25.6 24.4 27.2 26.8
1.175 25.0 25.5 27.1 26.6
1.200 24.2 25.2 27.0 26.5
1.225 25.9 23.7 26.9 26.5
1.250 25.5 25.0 26.8 26.4
1.275 23.8 24.6 26.8 26.2
1.300 25.2 25.3 26.7 26.1
1.325 26.2 24.0 26.6 26.1
1.350 24.4 24.3 26.5 26.0
1.375 24.7 25.7 26.6 25.9
1.400 25.8 24.9 26.6 25.8
1.425 23.9 23.8 26.5 25.7
1.450 26.4 25.1 26.4 25.6
1.475 25.3 25.4 26.4 25.6
1.500 24.1 24.2 26.3 25.5
}\rarab

\pgfplotsset{
  panel/.style={
    scale only axis, width=133pt, height=79.5pt, anchor=north west,
    xmin=-1.5, xmax=1.5,
    axis line style={line width=0.5pt},
    tick align=outside, major tick length=3.5pt,
    tick style={line width=0.5pt, black},
    xtick={-1.5,-0.04,0.04,1.5}, xticklabels={-1.5,{},{},1.5},
    xtick pos=bottom, ytick pos=left,
    /pgf/number format/assume math mode=true,
    tick label style={font=\fontsize{7.75}{9}\selectfont},
    xticklabel style={anchor=base, yshift=-10pt},
    yticklabel style={inner xsep=1pt},
    xlabel={center region},
    xlabel style={font=\fontsize{7.9}{9}\selectfont, at={(axis description cs:0.5,0)}, anchor=base, yshift=-13.75pt},
    title style={font=\bfseries\fontsize{10.5}{12}\selectfont, at={(axis description cs:0.5,1)}, anchor=base, yshift=5.75pt},
    ylabel style={font=\bfseries\fontsize{7.95}{9}\selectfont, at={(axis description cs:-0.165,0.47)}, anchor=center},
    every axis plot/.append style={line width=0.85pt, line join=round},
  },
}

\newcommand\fourlines[1]{%
  \addplot[cneg] table[x=x,y=cn]{#1};
  \addplot[cpos] table[x=x,y=cp]{#1};
  \addplot[tneg] table[x=x,y=tn]{#1};
  \addplot[tpos] table[x=x,y=tp]{#1};
}

\begin{document}
\begin{tikzpicture}
\useasboundingbox (0,0) rectangle (662.5pt,-269pt);

% row 1
\begin{axis}[panel, at={(34pt,-28pt)}, title={COLO829}, ylabel={cumulative methylation},
  ymin=14.4, ymax=32.6, ytick={15,20,25,30}]
\fourlines{\ctcfa}
\end{axis}
\begin{axis}[panel, at={(185.5pt,-28pt)}, title={COLO829BL},
  ymin=13.1, ymax=27.8, ytick={15,20,25}]
\fourlines{\ctcfb}
\end{axis}
\begin{axis}[panel, at={(369.5pt,-28pt)}, title={COLO829}, ylabel={cumulative methylation},
  ymin=8.9, ymax=34.3, ytick={10,15,20,25,30}]
\fourlines{\nrfa}
\end{axis}
\begin{axis}[panel, at={(522.5pt,-27.5pt)}, title={COLO829BL},
  ymin=7.9, ymax=29.1, ytick={10,15,20,25}]
\fourlines{\nrfb}
\end{axis}

% row 2
\begin{axis}[panel, at={(34pt,-147.5pt)}, title={COLO829}, ylabel={cumulative methylation},
  ymin=4.7, ymax=32.4, ytick={5,10,15,20,25,30}]
\fourlines{\znfa}
\end{axis}
\begin{axis}[panel, at={(187.5pt,-147.5pt)}, title={COLO829BL},
  ymin=5.2, ymax=28.85, ytick={10,15,20,25}]
\fourlines{\znfb}
\end{axis}
\begin{axis}[panel, at={(369.5pt,-147.5pt)}, title={COLO829}, ylabel={cumulative methylation},
  ymin=-2.6, ymax=56.1, ytick={0,10,20,30,40,50}]
\fourlines{\raraa}
\end{axis}
\begin{axis}[panel, at={(522.5pt,-148pt)}, title={COLO829BL},
  ymin=0.7, ymax=51.6, ytick={10,20,30,40,50},
  legend columns=2, transpose legend,
  legend style={draw=none, fill=none, at={(axis description cs:-1.1015,-0.283)}, anchor=north west,
    font=\fontsize{7.9}{9}\selectfont, inner sep=0pt, row sep=1pt,
    nodes={inner sep=1pt},
    /tikz/every even column/.append style={column sep=6pt}},
  legend cell align=left,
  legend image code/.code={\draw[#1, line width=1pt] (0pt,0pt) -- (15pt,0pt);}]
\fourlines{\rarab}
\legend{control regions on negative strand, control regions on positive strand,
  TF motif regions on negative strand, TF motif regions on positive strand}
\end{axis}

% group names and panel letters
\begin{scope}[every node/.style={inner sep=0pt}]
\node[anchor=base, font=\bfseries\fontsize{12.6}{14}\selectfont] at (173.75pt,-19.85pt) {CTCF};
\node[anchor=base, font=\bfseries\fontsize{12.6}{14}\selectfont] at (510pt,-20pt) {NRF1};
\node[anchor=base, font=\bfseries\fontsize{12.6}{14}\selectfont] at (178.5pt,-138.5pt) {ZNF93};
\node[anchor=base, font=\bfseries\fontsize{12.6}{14}\selectfont] at (511pt,-139pt) {RARA};
\node[anchor=base west, font=\bfseries\fontsize{19}{21}\selectfont] at (4.3pt,-20.9pt) {A};
\node[anchor=base west, font=\bfseries\fontsize{19}{21}\selectfont] at (339.6pt,-20.9pt) {B};
\node[anchor=base west, font=\bfseries\fontsize{19}{21}\selectfont] at (5pt,-140.5pt) {C};
\node[anchor=base west, font=\bfseries\fontsize{19}{21}\selectfont] at (339.6pt,-140.5pt) {D};
\end{scope}
\end{tikzpicture}
\end{document}
